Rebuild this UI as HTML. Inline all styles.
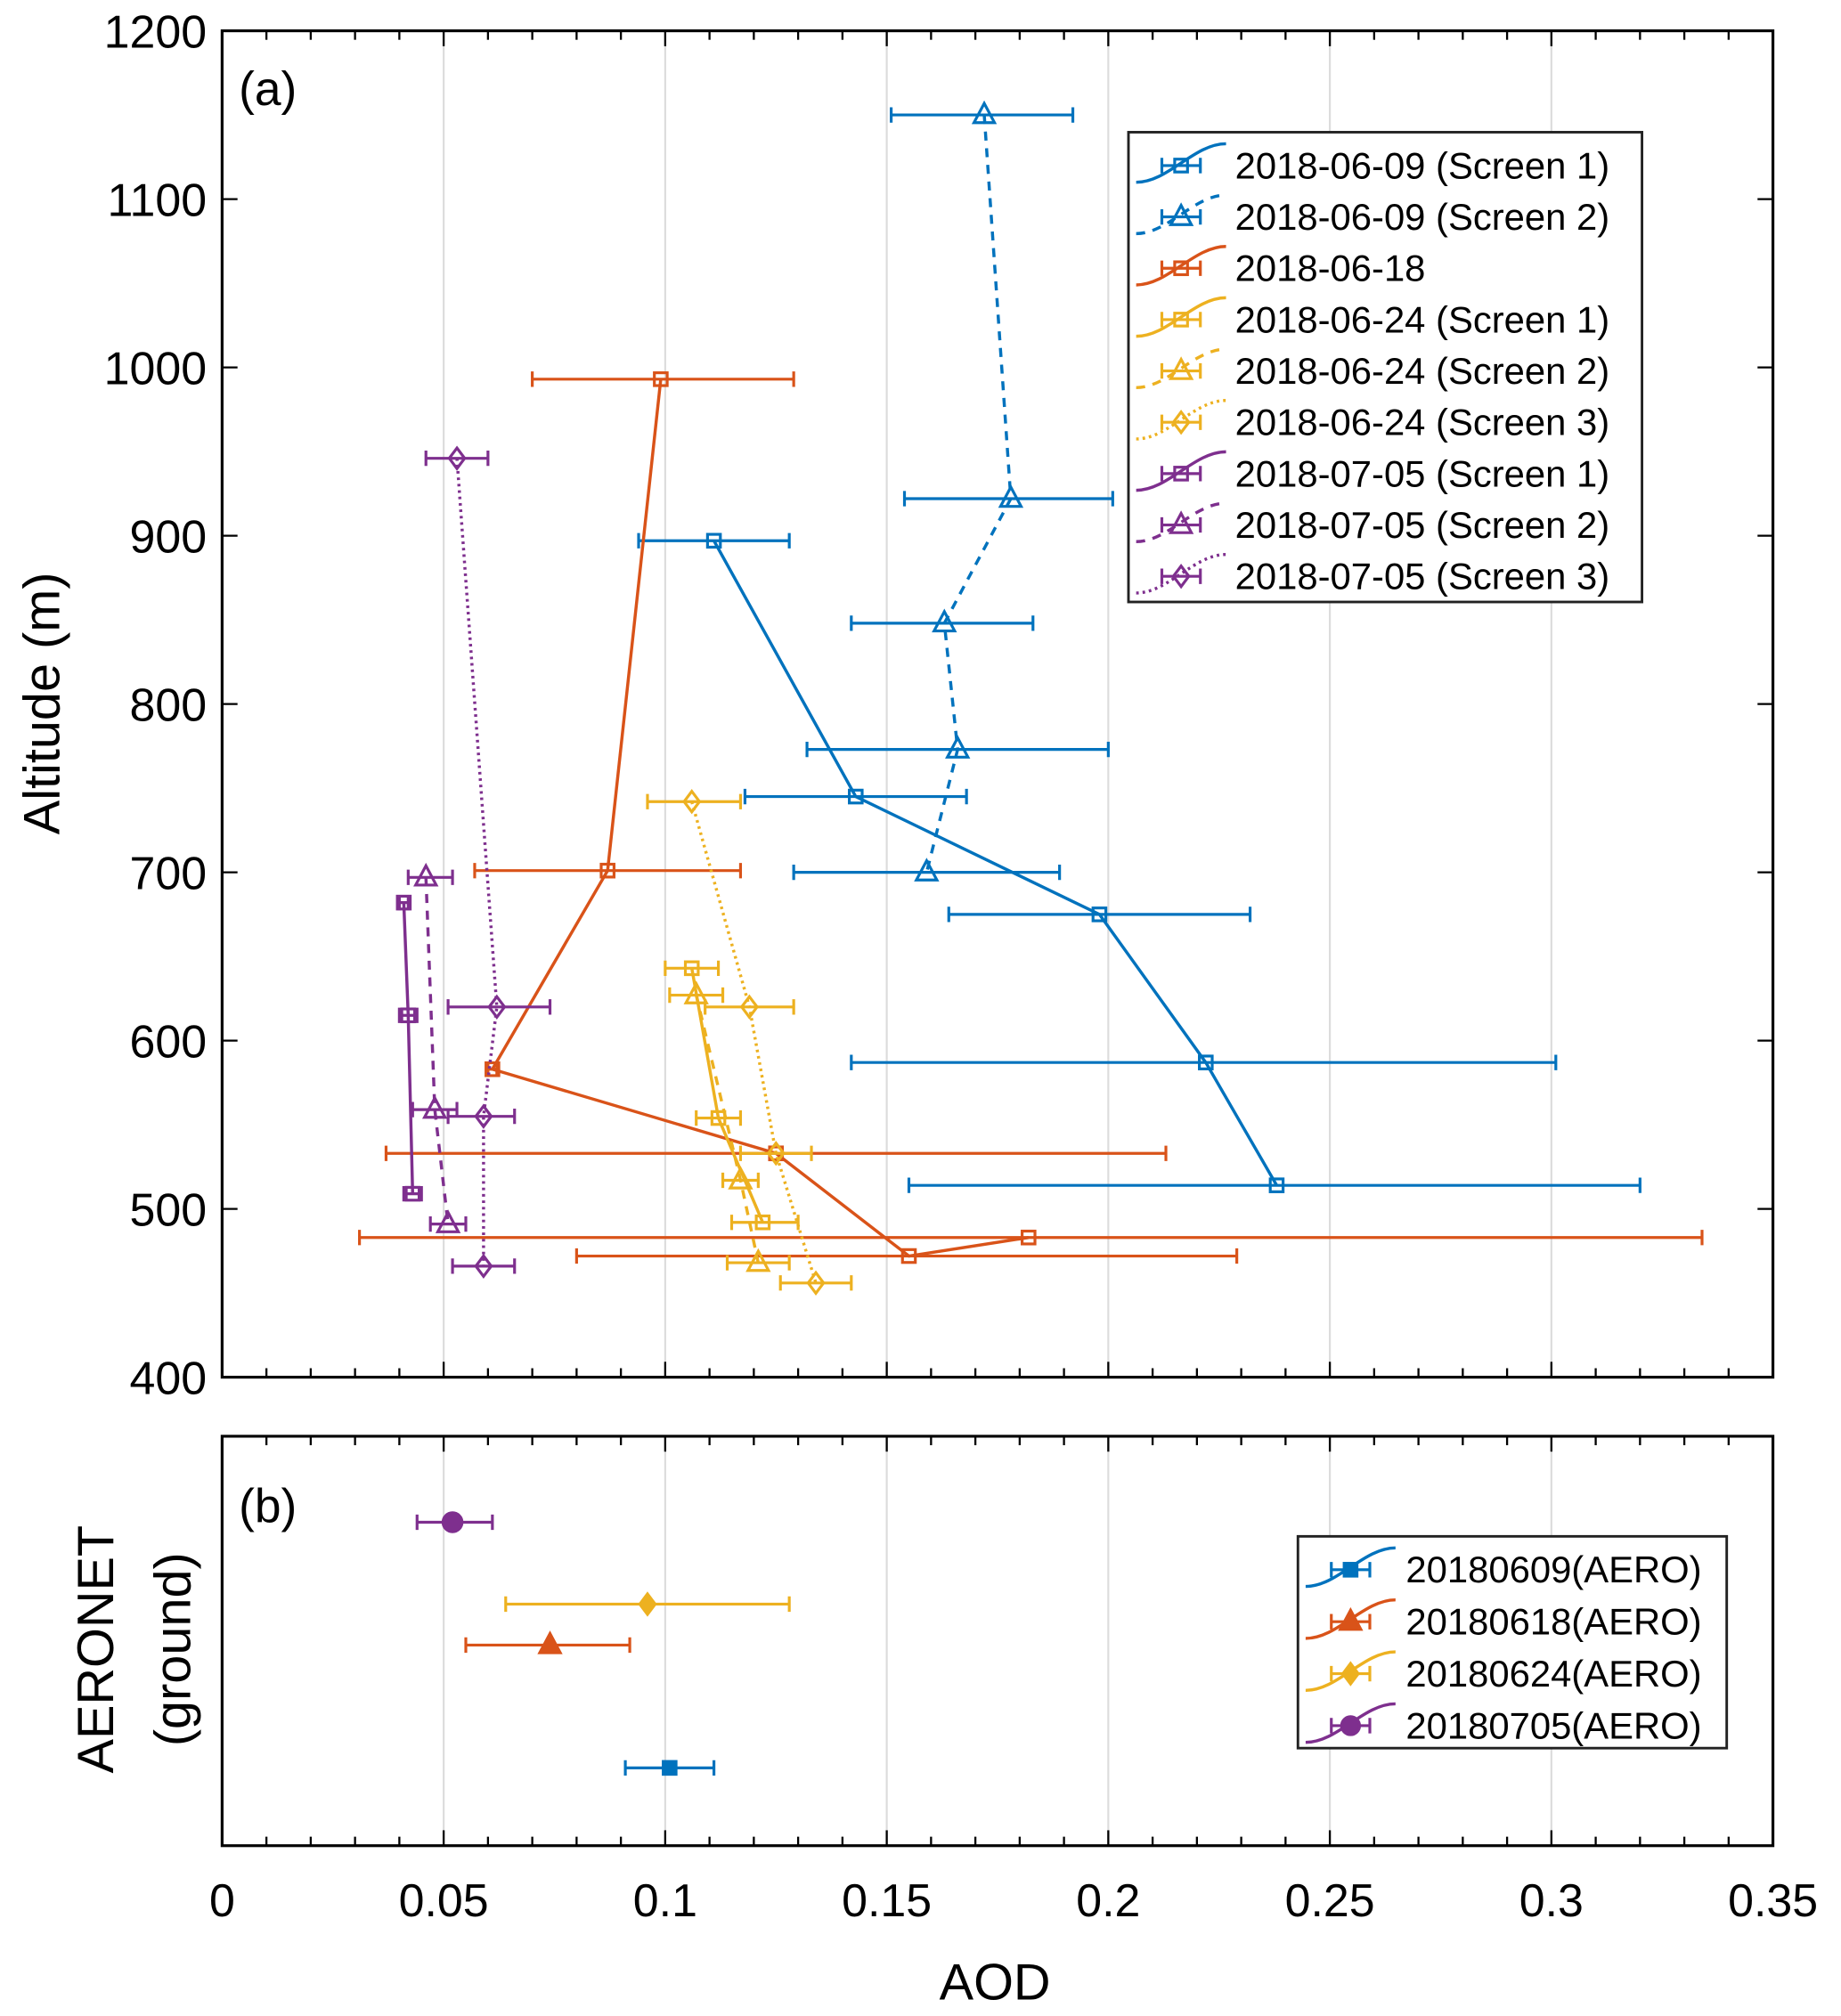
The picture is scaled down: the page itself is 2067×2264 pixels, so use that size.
<!DOCTYPE html>
<html><head><meta charset="utf-8"><style>
html,body{margin:0;padding:0;background:#fff}
svg{display:block;font-family:"Liberation Sans",Arial,sans-serif}
</style></head><body>
<svg id="chart" width="2067" height="2264" viewBox="0 0 1434 1570.7" xmlns="http://www.w3.org/2000/svg">
<g id="g"></g>
</svg>
<script>
const colors=["#0072BD","#0072BD","#D95319","#EDB120","#EDB120","#EDB120","#7E2F8E","#7E2F8E","#7E2F8E"];
const seriesNames=["2018-06-09 (Screen 1)","2018-06-09 (Screen 2)","2018-06-18","2018-06-24 (Screen 1)","2018-06-24 (Screen 2)","2018-06-24 (Screen 3)","2018-07-05 (Screen 1)","2018-07-05 (Screen 2)","2018-07-05 (Screen 3)"];
const seriesMarker=["s","t","s","s","t","d","s","t","d"];
const seriesDash=["","7,6","","","7,6","2,3","","7,6","2,3"];
const aod=[[0.111,0.143,0.198,0.222,0.238],[0.172,0.178,0.163,0.166,0.159],[0.099,0.087,0.061,0.125,0.155,0.182],[0.106,0.112,0.122],[0.107,0.117,0.121],[0.106,0.119,0.125,0.134],[0.041,0.042,0.043],[0.046,0.048,0.051],[0.053,0.062,0.059,0.059]];
const alt=[[897,745,675,587,514],[1150,922,848,773,700],[993,701,583,533,472,483],[643,554,492],[627,517,468],[742,620,533,456],[682,615,509],[697,559,491],[946,620,555,466]];
const errLo=[[0.094,0.118,0.164,0.142,0.155],[0.151,0.154,0.142,0.132,0.129],[0.070,0.057,0.060,0.037,0.080,0.031],[0.100,0.107,0.115],[0.101,0.113,0.114],[0.096,0.109,0.117,0.126],[0.040,0.040,0.041],[0.042,0.043,0.047],[0.046,0.051,0.051,0.052]];
const errHi=[[0.128,0.168,0.232,0.301,0.320],[0.192,0.201,0.183,0.200,0.189],[0.129,0.117,0.062,0.213,0.229,0.334],[0.112,0.117,0.130],[0.113,0.121,0.128],[0.117,0.129,0.133,0.142],[0.042,0.044,0.045],[0.052,0.053,0.055],[0.060,0.074,0.066,0.066]];
const aeroNames=["20180609(AERO)","20180618(AERO)","20180624(AERO)","20180705(AERO)"];
const aeroColors=["#0072BD","#D95319","#EDB120","#7E2F8E"];
const aeroMarker=["S","T","D","C"];
const aeroAod=[0.101,0.074,0.096,0.052];
const aeroPos=[0.19,0.49,0.59,0.79];
const aeroLo=[0.091,0.055,0.064,0.044];
const aeroHi=[0.111,0.092,0.128,0.061];
const xTicks=[0,0.05,0.1,0.15,0.2,0.25,0.3,0.35];
const xTickLabels=["0","0.05","0.1","0.15","0.2","0.25","0.3","0.35"];
const yTicks=[400,500,600,700,800,900,1000,1100,1200];

const L=173,R=1381,T=24,B=1073,T2=1119,B2=1438;
const X=v=>L+v/0.35*(R-L);
const Y=a=>B-(a-400)/800*(B-T);
const Y2=v=>B2-v*(B2-T2);
const NS="http://www.w3.org/2000/svg";
const g=document.getElementById('g');
function el(tag,at,parent,txt){const e=document.createElementNS(NS,tag);for(const k in at)e.setAttribute(k,at[k]);if(txt!==undefined)e.textContent=txt;(parent||g).appendChild(e);return e;}
function marker(type,x,y,c,parent,fill){
  let e;
  if(type=="s"||type=="S")e=el('rect',{x:x-5,y:y-5,width:10,height:10,fill:fill?c:'#fff','fill-opacity':fill?1:0,stroke:c,'stroke-width':2.2},parent);
  else if(type=="t"||type=="T")e=el('polygon',{points:`${x},${y-9} ${x-8},${y+6} ${x+8},${y+6}`,fill:fill?c:'none',stroke:c,'stroke-width':2.2},parent);
  else if(type=="d"||type=="D")e=el('polygon',{points:`${x},${y-8} ${x+6},${y} ${x},${y+8} ${x-6},${y}`,fill:fill?c:'none',stroke:c,'stroke-width':2.2},parent);
  else e=el('circle',{cx:x,cy:y,r:8,fill:c,stroke:c},parent);
  return e;
}
function ebar(x1,x2,y,c,parent){el('path',{d:`M${x1},${y}H${x2}M${x1},${y-6}V${y+6}M${x2},${y-6}V${y+6}`,stroke:c,'stroke-width':2.2,fill:'none'},parent);}

xTicks.forEach((t,i)=>{if(i>0&&i<xTicks.length-1){const gl=el('line',{x1:X(t),x2:X(t),y1:T,y2:B,stroke:'#dcdcdc','stroke-width':1.5});
 const gl2=el('line',{x1:X(t),x2:X(t),y1:T2,y2:B2,stroke:'#dcdcdc','stroke-width':1.5});}});

aod.forEach((xs,s)=>{
  const grp=el('g',{});
  
  
  const c=colors[s];
  let d=xs.map((v,i)=>(i?'L':'M')+X(v)+','+Y(alt[s][i])).join('');
  el('path',{d:d,fill:'none',stroke:c,'stroke-width':2.4,'stroke-dasharray':seriesDash[s]},grp);
  xs.forEach((v,i)=>{ebar(X(errLo[s][i]),X(errHi[s][i]),Y(alt[s][i]),c,grp);
    const m=marker(seriesMarker[s],X(v),Y(alt[s][i]),c,grp,false);
    
    });
});
aeroAod.forEach((v,i)=>{
  const grp=el('g',{});
  
  
  ebar(X(aeroLo[i]),X(aeroHi[i]),Y2(aeroPos[i]),aeroColors[i],grp);
  marker(aeroMarker[i],X(v),Y2(aeroPos[i]),aeroColors[i],grp,true);
});

function frame(top,bot,name){const f=el('rect',{x:L,y:top,width:R-L,height:bot-top,fill:'none',stroke:'#000','stroke-width':2.2});
 for(let v=0;v<=0.35001;v+=0.01){const x=X(v);const maj=Math.abs(v/0.05-Math.round(v/0.05))<1e-6;const len=maj?12:7;
  el('line',{x1:x,x2:x,y1:bot,y2:bot-len,stroke:'#000','stroke-width':1.6});el('line',{x1:x,x2:x,y1:top,y2:top+len,stroke:'#000','stroke-width':1.6});}}
frame(T,B,'top-axes');frame(T2,B2,'bottom-axes');
yTicks.forEach(t=>{const y=Y(t);el('line',{x1:L,x2:L+12,y1:y,y2:y,stroke:'#000','stroke-width':1.6});el('line',{x1:R,x2:R-12,y1:y,y2:y,stroke:'#000','stroke-width':1.6});
 const tx=el('text',{x:L-12,y:y+13,'text-anchor':'end','font-size':36},g,String(t));});
xTicks.forEach((t,i)=>{const tx=el('text',{x:X(t),y:B2+55,'text-anchor':'middle','font-size':36},g,xTickLabels[i]);});
</script>
<script>
(function(){
const svg=document.getElementById('chart');const NS="http://www.w3.org/2000/svg";
function t(x,y,s,sz,name,extra){const e=document.createElementNS(NS,'text');e.setAttribute('x',x);e.setAttribute('y',y);e.setAttribute('font-size',sz);if(extra)for(const k in extra)e.setAttribute(k,extra[k]);e.textContent=s;svg.appendChild(e);return e;}
t(186,82,'(a)',37,'panel-a-label');
t(186,1186,'(b)',37,'panel-b-label');
t(775,1558,'AOD',40,'x-axis-title',{'text-anchor':'middle'});
t(46,548,'Altitude (m)',40,'y-axis-title',{'text-anchor':'middle',transform:'rotate(-90 46 548)'});
t(88,1285,'AERONET',40,'y-axis-title-b1',{'text-anchor':'middle',transform:'rotate(-90 88 1285)'});
t(148,1285,'(ground)',40,'y-axis-title-b2',{'text-anchor':'middle',transform:'rotate(-90 148 1285)'});
function legend(x0,y0,w,h,names,cols,mk,dash,fill,name,tx,step){
  const g=document.createElementNS(NS,'g');svg.appendChild(g);
  const r=document.createElementNS(NS,'rect');r.setAttribute('x',x0);r.setAttribute('y',y0);r.setAttribute('width',w);r.setAttribute('height',h);r.setAttribute('fill','#fff');r.setAttribute('stroke','#222');r.setAttribute('stroke-width',2);g.appendChild(r);
  names.forEach((n,i)=>{const y=y0+26+i*step;const c=cols[i];const ix=x0+6;
    const e=document.createElementNS(NS,'g');g.appendChild(e);
    const p=document.createElementNS(NS,'path');p.setAttribute('d',`M${ix},${y+13}C${ix+25},${y+13} ${ix+45},${y-17} ${ix+70},${y-17}`);p.setAttribute('fill','none');p.setAttribute('stroke',c);p.setAttribute('stroke-width',2.4);if(dash&&dash[i])p.setAttribute('stroke-dasharray',dash[i]);e.appendChild(p);
    const b=document.createElementNS(NS,'path');b.setAttribute('d',`M${ix+20},${y}H${ix+50}M${ix+20},${y-6}V${y+6}M${ix+50},${y-6}V${y+6}`);b.setAttribute('stroke',c);b.setAttribute('stroke-width',2.2);e.appendChild(b);
    const mx=ix+35;let m;const ty=mk[i].toLowerCase();
    if(ty=='s'){m=document.createElementNS(NS,'rect');m.setAttribute('x',mx-5);m.setAttribute('y',y-5);m.setAttribute('width',10);m.setAttribute('height',10);}
    else if(ty=='t'){m=document.createElementNS(NS,'polygon');m.setAttribute('points',`${mx},${y-9} ${mx-8},${y+6} ${mx+8},${y+6}`);}
    else if(ty=='d'){m=document.createElementNS(NS,'polygon');m.setAttribute('points',`${mx},${y-8} ${mx+6},${y} ${mx},${y+8} ${mx-6},${y}`);}
    else {m=document.createElementNS(NS,'circle');m.setAttribute('cx',mx);m.setAttribute('cy',y);m.setAttribute('r',7);}
    m.setAttribute('fill',fill?c:'none');m.setAttribute('stroke',c);m.setAttribute('stroke-width',2.2);e.appendChild(m);
    const te=document.createElementNS(NS,'text');te.setAttribute('x',tx);te.setAttribute('y',y+10);te.setAttribute('font-size',29);te.textContent=n;e.appendChild(te);
  });
}
legend(879,103,400,366,seriesNames,colors,seriesMarker,seriesDash,false,'legend-top',962,40);
legend(1011,1197,334,165,aeroNames,aeroColors,aeroMarker,null,true,'legend-bottom',1095,40.5);
})();
</script>
</body></html>
